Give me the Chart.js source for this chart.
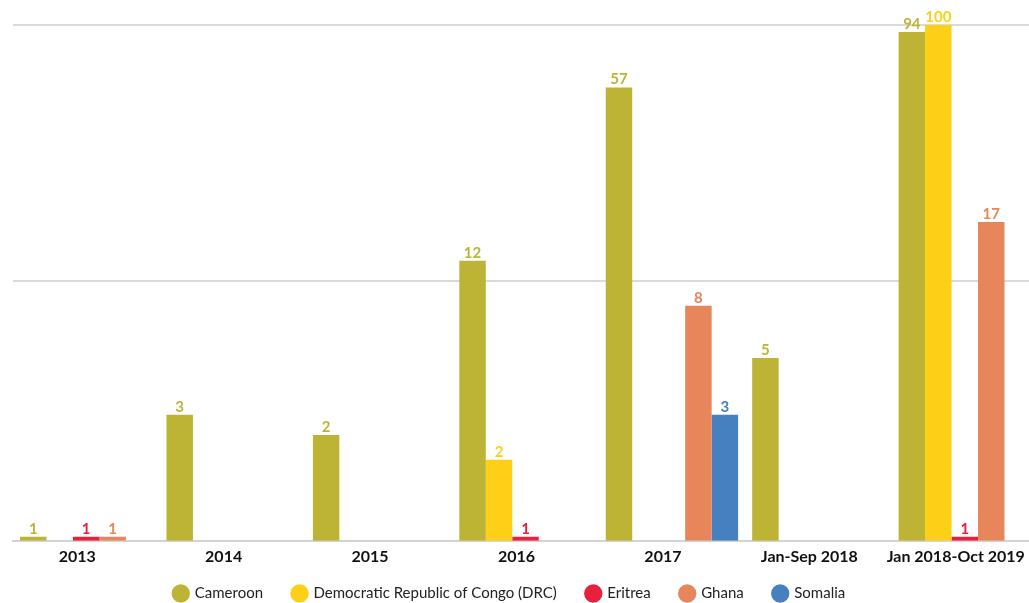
<!DOCTYPE html>
<html>
<head>
<meta charset="utf-8">
<script src="https://cdn.jsdelivr.net/npm/chart.js@4.4.1/dist/chart.umd.min.js"></script>
<style>
  html, body { margin: 0; padding: 0; background: #ffffff; overflow: hidden; }
  #wrap { width: 1040px; height: 627px; position: relative; }
</style>
</head>
<body>
<div id="wrap"><canvas id="c"></canvas></div>
<script>
// ---- data ----
const categories = ['2013', '2014', '2015', '2016', '2017', 'Jan-Sep 2018', 'Jan 2018-Oct 2019'];
const seriesNames = ['Cameroon', 'Democratic Republic of Congo (DRC)', 'Eritrea', 'Ghana', 'Somalia'];
const cameroon = [1, 3, 2.5, 12, 57, 5, 94];
const drc      = [null, null, null, 2, null, null, 100];
const eritrea  = [1, null, null, 1, null, null, 1];
const ghana    = [1, null, null, null, 8, null, 17];
const somalia  = [null, null, null, null, 3, null, null];
const gridTicks = [10, 100];

const colors = ['#BDB436', '#FDD017', '#E8203E', '#E6865A', '#4680C0'];
const seriesData = [cameroon, drc, eritrea, ghana, somalia];

const valueLabels = {
  id: 'valueLabels',
  afterDatasetsDraw(chart) {
    const ctx = chart.ctx;
    ctx.save();
    ctx.font = 'bold 15px Lato, "Open Sans", sans-serif';
    ctx.textAlign = 'center';
    ctx.textBaseline = 'alphabetic';
    chart.data.datasets.forEach((ds, di) => {
      const meta = chart.getDatasetMeta(di);
      meta.data.forEach((bar, i) => {
        const v = ds.data[i];
        if (v === null || v === undefined) return;
        ctx.fillStyle = ds.backgroundColor;
        ctx.fillText(String(Math.floor(v)), bar.x, bar.y - 3);
      });
    });
    ctx.restore();
  }
};

const legendShift = {
  id: 'legendShift',
  afterLayout(chart) {
    const lg = chart.legend;
    if (lg) { lg.left -= 16; lg.right -= 16; lg.top -= 16; lg.bottom -= 16; }
  }
};

new Chart(document.getElementById('c'), {
  type: 'bar',
  data: {
    labels: categories,
    datasets: seriesNames.map((name, k) => ({
      label: name,
      data: seriesData[k],
      backgroundColor: colors[k],
      borderWidth: 0,
      categoryPercentage: 0.904,
      barPercentage: 1.0
    }))
  },
  options: {
    responsive: true,
    maintainAspectRatio: false,
    devicePixelRatio: 1,
    animation: false,
    layout: { padding: { left: 13, right: 1.5, top: 25, bottom: 0 } },
    plugins: {
      tooltip: { enabled: false },
      legend: {
        position: 'bottom',
        labels: {
          usePointStyle: true,
          pointStyle: 'circle',
          boxWidth: 13,
          boxHeight: 13,
          padding: 30,
          color: '#222222',
          font: { family: 'Lato, "Open Sans", sans-serif', size: 15 }
        }
      }
    },
    scales: {
      x: {
        type: 'category',
        offset: true,
        grid: { display: false, drawTicks: false },
        border: { display: true, color: '#d3d3d3', width: 2 },
        ticks: {
          color: '#111111',
          font: { family: 'Lato, "Open Sans", sans-serif', size: 16, weight: 'bold' },
          padding: 6,
          labelOffset: -9,
          maxRotation: 0,
          autoSkip: false
        }
      },
      y: {
        type: 'logarithmic',
        min: 0.965,
        max: 100,
        afterBuildTicks(scale) { scale.ticks = gridTicks.map(v => ({ value: v })); },
        grid: { color: '#dadada', lineWidth: 2, drawTicks: false },
        border: { display: false },
        ticks: { display: false }
      }
    }
  },
  plugins: [valueLabels, legendShift]
});
</script>
</body>
</html>
